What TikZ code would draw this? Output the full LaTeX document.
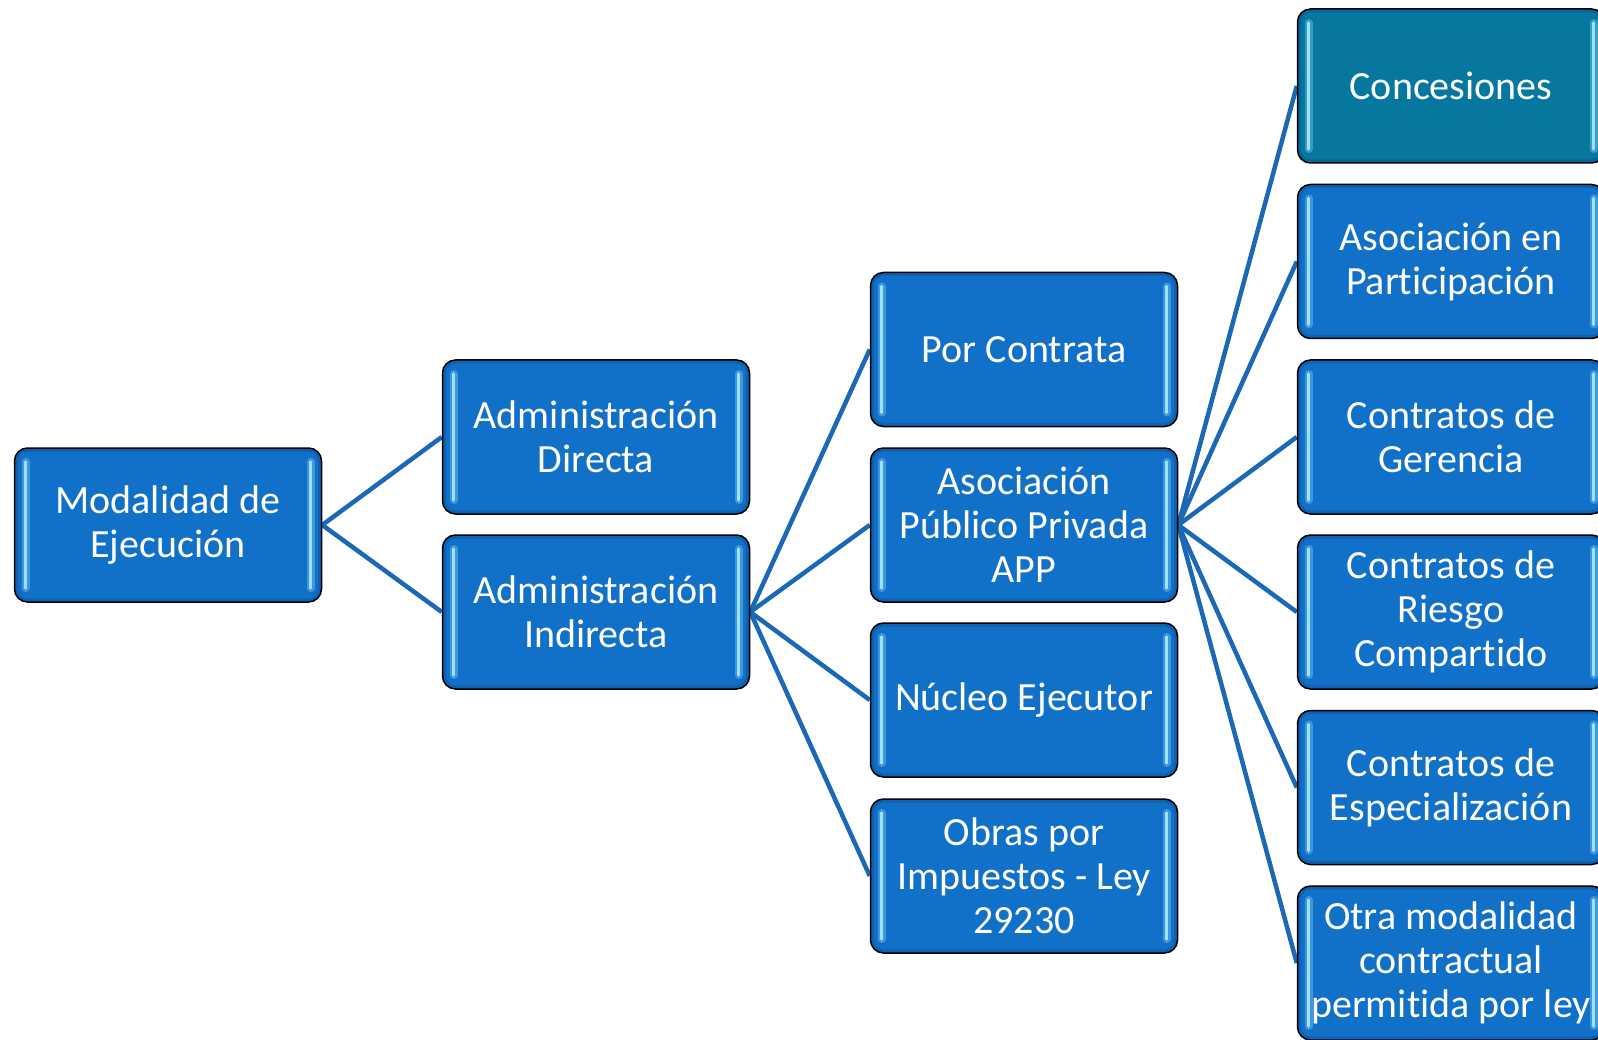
\documentclass[tikz,border=0pt]{standalone}
\usepackage{fontspec}
\setmainfont[Ligatures={NoCommon}]{Carlito}
\usetikzlibrary{backgrounds}
\definecolor{boxblue}{HTML}{1170C8}
\definecolor{boxteal}{HTML}{06789F}
\definecolor{edgeblue}{HTML}{0A4F92}
\definecolor{stripc}{HTML}{9BE2FF}
\definecolor{linec}{HTML}{1A68B6}
\tikzset{
  box/.style={draw=black, line width=1.5pt, fill=boxblue, rounded corners=13pt,
    minimum width=307pt, minimum height=154pt, text=white, align=center, inner sep=0pt,
    font=\fontsize{40}{44}\selectfont,
    path picture={
      \draw[edgeblue, line width=7pt, opacity=0.45, rounded corners=13pt]
        (path picture bounding box.south west) rectangle (path picture bounding box.north east);
      \draw[stripc, line width=8pt, opacity=0.35, line cap=round]
        ([xshift=11pt,yshift=-14pt]path picture bounding box.north west) --
        ([xshift=11pt,yshift=14pt]path picture bounding box.south west);
      \draw[stripc, line width=8pt, opacity=0.35, line cap=round]
        ([xshift=-11pt,yshift=-14pt]path picture bounding box.north east) --
        ([xshift=-11pt,yshift=14pt]path picture bounding box.south east);
      \draw[stripc, line width=3.5pt, line cap=round]
        ([xshift=11pt,yshift=-14pt]path picture bounding box.north west) --
        ([xshift=11pt,yshift=14pt]path picture bounding box.south west);
      \draw[stripc, line width=3.5pt, line cap=round]
        ([xshift=-11pt,yshift=-14pt]path picture bounding box.north east) --
        ([xshift=-11pt,yshift=14pt]path picture bounding box.south east);
    }},
  tealbox/.style={box, fill=boxteal},
  conn/.style={linec, line width=4.5pt}
}
\begin{document}
\begin{tikzpicture}[x=1pt,y=-1pt]
\useasboundingbox (0,0) rectangle (1598,1040);
\clip (0,0) rectangle (1598,1040);
% column 1
\node[box] (mod) at (168,525) {Modalidad de\\Ejecución};
% column 2
\node[box] (dir) at (596,437) {Administración\\Directa};
\node[box] (ind) at (596,612) {Administración\\Indirecta};
% column 3
\node[box] (por) at (1024,349.5) {Por Contrata};
\node[box] (app) at (1024,525) {Asociación\\Público Privada\\APP};
\node[box] (nuc) at (1024,700) {Núcleo Ejecutor};
\node[box] (obr) at (1024,876) {Obras por\\Impuestos - Ley\\29230};
% column 4
\node[tealbox] (con) at (1451,86) {Concesiones};
\node[box] (aso) at (1451,261.5) {Asociación en\\Part\kern0pt icipación};
\node[box] (ger) at (1451,437) {Contratos de\\Gerencia};
\node[box] (rie) at (1451,612) {Contratos de\\Riesgo\\Compart\kern0pt ido};
\node[box] (esp) at (1451,787.5) {Contratos de\\Especialización};
\node[box] (otr) at (1451,963) {Otra modalidad\\contractual\\permit\kern0pt ida por ley};
\begin{scope}[on background layer]
\draw[conn] (mod.east) -- (dir.west);
\draw[conn] (mod.east) -- (ind.west);
\foreach \t in {por,app,nuc,obr} \draw[conn] (ind.east) -- (\t.west);
\foreach \t in {con,aso,ger,rie,esp,otr} \draw[conn] (app.east) -- (\t.west);
\end{scope}
\end{tikzpicture}
\end{document}
